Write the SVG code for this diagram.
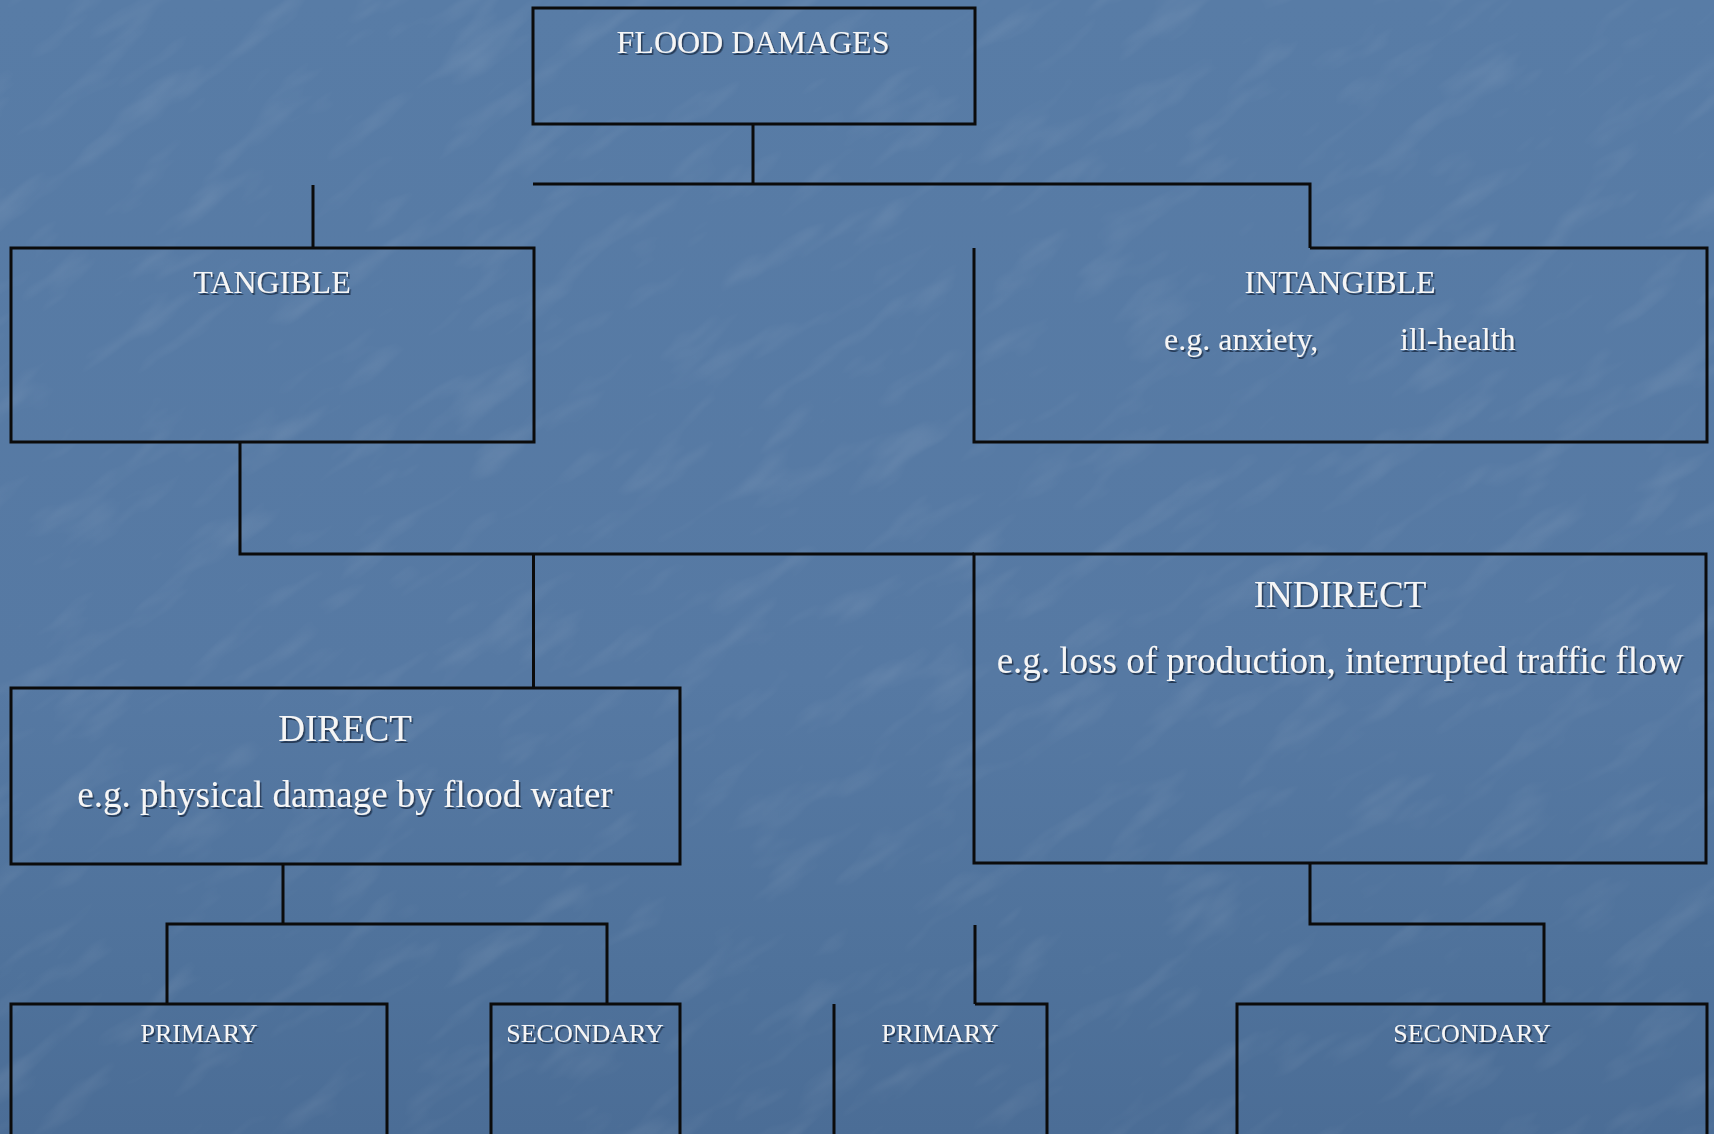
<svg xmlns="http://www.w3.org/2000/svg" width="1714" height="1134" viewBox="0 0 1714 1134">
  <defs>
    <linearGradient id="bg" x1="0" y1="0" x2="0" y2="1">
      <stop offset="0" stop-color="#587ca6"/>
      <stop offset="0.6" stop-color="#5679a3"/>
      <stop offset="0.85" stop-color="#4f729b"/>
      <stop offset="1" stop-color="#4b6d96"/>
    </linearGradient>
    <filter id="tex" x="0" y="0" width="100%" height="100%">
      <feTurbulence type="fractalNoise" baseFrequency="0.01 0.035" numOctaves="3" seed="7" result="n"/>
      <feColorMatrix in="n" type="matrix" values="0 0 0 0 1  0 0 0 0 1  0 0 0 0 1  0 0 0 1.4 -0.75"/>
    </filter>
    <filter id="shadow" x="-5%" y="-20%" width="110%" height="150%">
      <feDropShadow dx="1.5" dy="2" stdDeviation="0.6" flood-color="#1c2c44" flood-opacity="0.8"/>
    </filter>
    <style>
      .box { fill: none; stroke: #0b0b0b; stroke-width: 3; stroke-linejoin: miter; }
      .conn { fill: none; stroke: #0b0b0b; stroke-width: 3; }
      .t { font-family: "Liberation Serif", "Times New Roman", serif; fill: #f6f6f6; text-anchor: middle; filter: url(#shadow); }
      .s32 { font-size: 32px; }
      .s37 { font-size: 37px; }
      .s26 { font-size: 26px; }
    </style>
  </defs>

  <rect x="0" y="0" width="1714" height="1134" fill="url(#bg)"/>
  <g transform="rotate(-35 857 567)" opacity="0.14">
    <rect x="-600" y="-600" width="2914" height="2334" filter="url(#tex)"/>
  </g>

  <g id="connectors">
    <path class="conn" d="M753,124 V184"/>
    <path class="conn" d="M533,184 H1310 V248"/>
    <path class="conn" d="M313,185 V248"/>
    <path class="conn" d="M240,442 V554 H974"/>
    <path class="conn" d="M533.5,554 V688"/>
    <path class="conn" d="M283,864 V924"/>
    <path class="conn" d="M167,1004 V924 H607 V1004"/>
    <path class="conn" d="M1310,863 V924 H1544 V1004"/>
    <path class="conn" d="M975,925 V1004"/>
  </g>

  <g id="flood-damages">
    <rect class="box" x="533" y="8" width="442" height="116"/>
    <text class="t s32" x="753" y="53">FLOOD DAMAGES</text>
  </g>

  <g id="tangible">
    <rect class="box" x="11" y="248" width="523" height="194"/>
    <text class="t s32" x="272" y="293">TANGIBLE</text>
  </g>

  <g id="intangible">
    <path class="box" d="M974,248 V442 H1707 V248 H1310"/>
    <text class="t s32" x="1340" y="293">INTANGIBLE</text>
    <text class="t s32" y="350" style="text-anchor:start"><tspan x="1164">e.g. anxiety,</tspan><tspan x="1400">ill-health</tspan></text>
  </g>

  <g id="direct">
    <rect class="box" x="11" y="688" width="669" height="176"/>
    <text class="t s37" x="345" y="741">DIRECT</text>
    <text class="t s37" x="345" y="807">e.g. physical damage by flood water</text>
  </g>

  <g id="indirect">
    <rect class="box" x="974" y="554" width="732" height="309"/>
    <text class="t s37" x="1340" y="607">INDIRECT</text>
    <text class="t s37" x="1340" y="673">e.g. loss of production, interrupted traffic flow</text>
  </g>

  <g id="direct-primary">
    <path class="box" d="M11,1140 V1004 H387 V1140"/>
    <text class="t s26" x="199" y="1042">PRIMARY</text>
  </g>

  <g id="direct-secondary">
    <path class="box" d="M491,1140 V1004 H680 V1140"/>
    <text class="t s26" x="585" y="1042">SECONDARY</text>
  </g>

  <g id="indirect-primary">
    <path class="box" d="M834,1004 V1140 M975,1004 H1047 V1140"/>
    <text class="t s26" x="940" y="1042">PRIMARY</text>
  </g>

  <g id="indirect-secondary">
    <path class="box" d="M1237,1140 V1004 H1707 V1140"/>
    <text class="t s26" x="1472" y="1042">SECONDARY</text>
  </g>
</svg>
